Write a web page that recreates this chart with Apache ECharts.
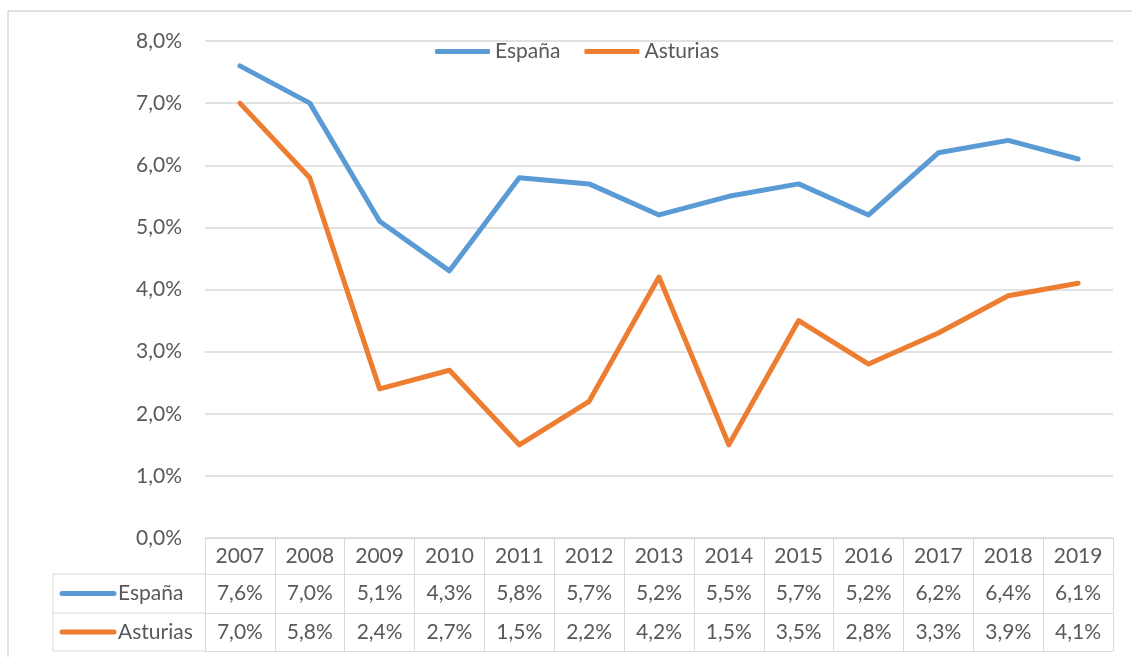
<!DOCTYPE html>
<html>
<head>
<meta charset="utf-8">
<script src="https://cdn.jsdelivr.net/npm/echarts@6/dist/echarts.min.js"></script>
<style>
  html, body { margin: 0; padding: 0; background: #fff; }
  #chart { width: 1132px; height: 657px; }
</style>
</head>
<body>
<div id="chart"></div>
<script>
// data (percent)
const years = ['2007', '2008', '2009', '2010', '2011', '2012', '2013', '2014', '2015', '2016', '2017', '2018', '2019'];
const espana = [7.6, 7.0, 5.1, 4.3, 5.8, 5.7, 5.2, 5.5, 5.7, 5.2, 6.2, 6.4, 6.1];
const asturias = [7.0, 5.8, 2.4, 2.7, 1.5, 2.2, 4.2, 1.5, 3.5, 2.8, 3.3, 3.9, 4.1];
const seriesNames = ['España', 'Asturias'];
const colors = ['#5B9BD5', '#ED7D31'];

const FONT = 'Lato';
const FS = 21;
const TXT = '#595959';
const GRIDC = '#d9d9d9';

const fmt = v => v.toFixed(1).replace('.', ',') + '%';

// layout
const plotLeft = 205, plotRight = 1113, plotTop = 41, plotBottom = 538;
const rowLines = [574, 613, 651]; // bottom of header, row1, row2
const tableLeft = 53;

const chart = echarts.init(document.getElementById('chart'), null, { renderer: 'canvas' });

const tableXAxis = (data, offset, margin, showLabel) => ({
    type: 'category',
    data: data,
    position: 'bottom',
    offset: offset,
    boundaryGap: true,
    axisLine: { show: true, lineStyle: { color: GRIDC, width: 1 } },
    axisTick: { show: false },
    axisLabel: { show: showLabel, margin: margin, color: TXT, fontFamily: FONT, fontSize: FS, interval: 0 },
    splitLine: { show: false }
});

// left legend column of the data table
const sideGraphics = [];
rowLines.forEach(y => {
    sideGraphics.push({ type: 'line', shape: { x1: tableLeft, y1: y, x2: plotLeft, y2: y }, style: { stroke: GRIDC, lineWidth: 1 } });
});
sideGraphics.push({ type: 'line', shape: { x1: tableLeft, y1: rowLines[0], x2: tableLeft, y2: rowLines[2] }, style: { stroke: GRIDC, lineWidth: 1 } });
seriesNames.forEach((name, i) => {
    const cy = (rowLines[i] + rowLines[i + 1]) / 2;
    sideGraphics.push({ type: 'line', shape: { x1: 62, y1: cy, x2: 114, y2: cy }, style: { stroke: colors[i], lineWidth: 5, lineCap: 'round' } });
    sideGraphics.push({ type: 'text', x: 118, y: cy, style: { text: name, fill: TXT, font: FS + 'px ' + FONT, textVerticalAlign: 'middle' } });
});
// outer frame
sideGraphics.push({ type: 'polyline', shape: { points: [[8, 657], [8, 11], [1132, 11]] }, style: { stroke: GRIDC, lineWidth: 1.5, fill: null } });

chart.setOption({
    animation: false,
    backgroundColor: '#fff',
    color: colors,
    textStyle: { fontFamily: FONT },
    legend: {
        top: 36,
        left: 430,
        itemWidth: 55,
        itemHeight: 5,
        itemGap: 24,
        icon: 'roundRect',
        textStyle: { color: TXT, fontSize: FS, fontFamily: FONT, padding: [0, 0, 0, 0] },
        data: seriesNames
    },
    grid: { left: plotLeft, right: 1132 - plotRight, top: plotTop, bottom: 657 - plotBottom, containLabel: false },
    xAxis: [
        {
            type: 'category',
            data: years,
            position: 'bottom',
            boundaryGap: true,
            axisLine: { show: true, lineStyle: { color: GRIDC, width: 1 } },
            axisTick: { show: true, alignWithLabel: false, length: rowLines[2] - plotBottom, interval: 0, lineStyle: { color: GRIDC, width: 1 } },
            axisLabel: { margin: 8, color: TXT, fontFamily: FONT, fontSize: FS, interval: 0 },
            splitLine: { show: false }
        },
        tableXAxis(espana.map(fmt), rowLines[0] - plotBottom, 9, true),
        tableXAxis(asturias.map(fmt), rowLines[1] - plotBottom, 9, true),
        tableXAxis(years.map(() => ''), rowLines[2] - plotBottom, 0, false)
    ],
    yAxis: {
        type: 'value',
        min: 0,
        max: 8,
        interval: 1,
        axisLine: { show: false },
        axisTick: { show: false },
        axisLabel: { margin: 23, color: TXT, fontFamily: FONT, fontSize: FS, formatter: v => fmt(v) },
        splitLine: { lineStyle: { color: GRIDC, width: 1.5 } }
    },
    series: [
        { name: seriesNames[0], type: 'line', data: espana, xAxisIndex: 0, showSymbol: false, symbol: 'none', lineStyle: { width: 5, color: colors[0], cap: 'round', join: 'round' } },
        { name: seriesNames[1], type: 'line', data: asturias, xAxisIndex: 0, showSymbol: false, symbol: 'none', lineStyle: { width: 5, color: colors[1], cap: 'round', join: 'round' } }
    ],
    graphic: sideGraphics
});
</script>
</body>
</html>
